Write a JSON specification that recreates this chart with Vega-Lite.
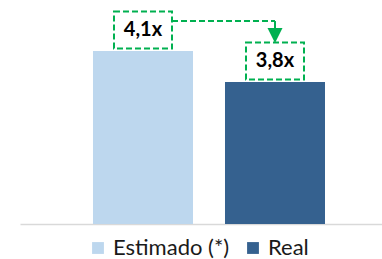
{
  "$schema": "https://vega.github.io/schema/vega-lite/v6.json",
  "autosize": {"type": "none"},
  "width": 362,
  "height": 224,
  "padding": {"left": 20, "right": 0, "top": 0, "bottom": 35},
  "background": "white",
  "config": {"view": {"stroke": null}, "font": "Lato"},
  "datasets": {
    "bars": [
      {"cat": "Estimado (*)", "value": 4.1, "label": "4,1x"},
      {"cat": "Real", "value": 3.8, "label": "3,8x"}
    ],
    "arrow": [
      {"from": "Estimado (*)", "to": "Real", "v_from": 4.1, "v_to": 3.8}
    ]
  },
  "layer": [
    {
      "data": {"name": "bars"},
      "mark": {"type": "bar"},
      "encoding": {
        "x": {"field": "cat", "type": "nominal", "sort": null,
          "scale": {"domain": ["Estimado (*)", "Real"], "paddingInner": 0.2424, "paddingOuter": 0.4924, "align": 0.5615},
          "axis": {"labels": false, "ticks": false, "title": null, "domainColor": "#D9D9D9", "domainWidth": 1.5}},
        "y": {"field": "value", "type": "quantitative", "scale": {"domain": [2.426, 4.594], "zero": false, "nice": false}, "axis": null},
        "y2": {"datum": 2.426},
        "color": {"field": "cat", "type": "nominal", "sort": null,
          "scale": {"domain": ["Estimado (*)", "Real"], "range": ["#BDD7EE", "#35618F"]},
          "legend": {"title": null, "orient": "none", "legendX": 67, "legendY": 237, "direction": "horizontal", "symbolType": "square", "symbolSize": 140,
            "labelFontSize": 22, "labelFont": "Lato", "labelColor": "#1a1a1a", "columnPadding": 12, "labelOffset": 4, "symbolStrokeWidth": 0, "labelLimit": 300,
            "encode": {"symbols": {"update": {"fill": {"signal": "datum.value === 'Real' ? '#2E75B6' : '#DDEBF7'"}, "strokeWidth": {"value": 0}}}}}}
      }
    },
    {
      "data": {"name": "bars"},
      "mark": {"type": "point", "shape": "M-1,-0.638H1V0.638H-1Z", "size": 3364, "filled": false, "stroke": "#00B050", "strokeWidth": 2, "strokeDash": [6, 3], "yOffset": -21, "opacity": 1},
      "encoding": {
        "x": {"field": "cat", "type": "nominal", "sort": null},
        "y": {"field": "value", "type": "quantitative"}
      }
    },
    {
      "data": {"name": "bars"},
      "mark": {"type": "text", "fontWeight": "bold", "fontSize": 20, "font": "Lato", "color": "#000000", "baseline": "middle", "align": "center", "yOffset": -21},
      "encoding": {
        "x": {"field": "cat", "type": "nominal", "sort": null},
        "y": {"field": "value", "type": "quantitative"},
        "text": {"field": "label"}
      }
    },
    {
      "data": {"name": "arrow"},
      "mark": {"type": "rule", "color": "#00B050", "strokeWidth": 2, "strokeDash": [6, 3], "xOffset": 29, "yOffset": -30},
      "encoding": {
        "x": {"field": "from", "type": "nominal"},
        "x2": {"field": "to"},
        "y": {"field": "v_from", "type": "quantitative"}
      }
    },
    {
      "data": {"name": "arrow"},
      "mark": {"type": "rule", "color": "#00B050", "strokeWidth": 2, "yOffset": -30, "y2Offset": -54},
      "encoding": {
        "x": {"field": "to", "type": "nominal"},
        "y": {"field": "v_from", "type": "quantitative"},
        "y2": {"field": "v_to"}
      }
    },
    {
      "data": {"name": "arrow"},
      "mark": {"type": "point", "shape": "M-1,-1H1L0,1Z", "size": 225, "filled": true, "color": "#00B050", "opacity": 1, "yOffset": -46.5},
      "encoding": {
        "x": {"field": "to", "type": "nominal"},
        "y": {"field": "v_to", "type": "quantitative"}
      }
    }
  ]
}
